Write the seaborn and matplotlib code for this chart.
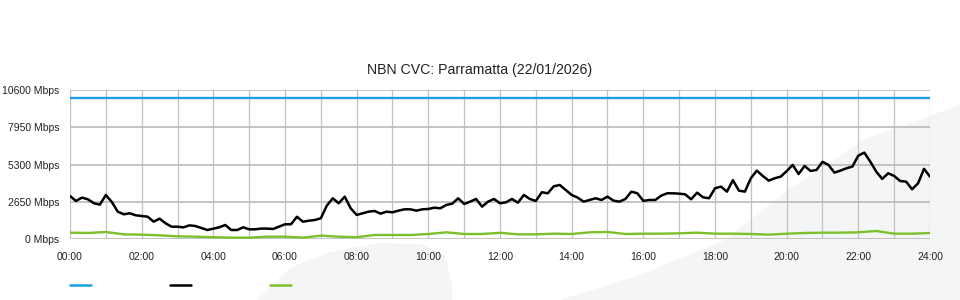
import numpy as np
import pandas as pd
import matplotlib
matplotlib.use("Agg")
import matplotlib.pyplot as plt
from matplotlib.lines import Line2D
from matplotlib.patches import Polygon
import seaborn as sns

# ---------------- data ----------------
TITLE = "NBN CVC: Parramatta (22/01/2026)"
Y_TICKS = [0, 2650, 5300, 7950, 10600]
Y_TICK_LABELS = ["0 Mbps", "2650 Mbps", "5300 Mbps", "7950 Mbps", "10600 Mbps"]
X_TICKS_H = [0, 2, 4, 6, 8, 10, 12, 14, 16, 18, 20, 22, 24]
X_TICK_LABELS = ["00:00", "02:00", "04:00", "06:00", "08:00", "10:00", "12:00",
                 "14:00", "16:00", "18:00", "20:00", "22:00", "24:00"]

# capacity (blue), constant across the day
capacity_hours = [0, 24]
capacity_mbps = [10000, 10000]

# traffic (black), sampled every 10 minutes from 00:00 to 24:00
traffic_step_min = 10
traffic_mbps = [
    3077, 2721, 2960, 2840, 2558, 2460, 3147, 2650, 1961, 1776,
    1847, 1705, 1655, 1606, 1250, 1464, 1137, 895, 895, 848,
    990, 943, 800, 661, 760, 852, 1016, 661, 661, 852,
    710, 710, 760, 760, 732, 895, 1066, 1066, 1600, 1250,
    1321, 1370, 1492, 2390, 2913, 2558, 3027, 2200, 1730, 1847,
    1963, 2011, 1820, 1963, 1916, 2035, 2129, 2129, 2035, 2129,
    2153, 2247, 2200, 2437, 2530, 2911, 2507, 2674, 2863, 2318,
    2674, 2863, 2556, 2627, 2863, 2600, 3148, 2863, 2720, 3340,
    3267, 3763, 3857, 3502, 3148, 2958, 2674, 2792, 2911, 2792,
    3029, 2745, 2674, 2863, 3385, 3267, 2730, 2792, 2792, 3100,
    3266, 3266, 3240, 3195, 2840, 3313, 2982, 2911, 3621, 3740,
    3384, 4200, 3455, 3384, 4332, 4876, 4497, 4166, 4332, 4450,
    4840, 5279, 4640, 5208, 4850, 4924, 5500, 5279, 4734, 4876,
    5042, 5161, 5940, 6155, 5516, 4805, 4285, 4687, 4497, 4140,
    4095, 3550, 3976, 5000, 4450,
]

# secondary series (green), sampled every 30 minutes
green_step_min = 30
green_mbps = [
    471, 450, 520, 353, 330, 280, 210, 187, 150, 116,
    116, 187, 187, 116, 258, 187, 150, 306, 306, 306,
    377, 495, 377, 377, 460, 353, 353, 400, 377, 495,
    520, 377, 400, 400, 424, 471, 400, 400, 377, 329,
    400, 447, 471, 471, 495, 590, 400, 400, 447,
]

COLORS = {"capacity": "#1ba1e2", "traffic": "#000000", "green": "#7cc02c"}

traffic_df = pd.DataFrame({
    "hour": np.arange(len(traffic_mbps)) * traffic_step_min / 60.0,
    "mbps": traffic_mbps,
})
green_df = pd.DataFrame({
    "hour": np.arange(len(green_mbps)) * green_step_min / 60.0,
    "mbps": green_mbps,
})
cap_df = pd.DataFrame({"hour": capacity_hours, "mbps": capacity_mbps})

# ---------------- style ----------------
sns.set_style("white")
plt.rcParams["font.family"] = ["Liberation Sans", "DejaVu Sans"]

W, H = 960, 300
fig = plt.figure(figsize=(W / 100, H / 100), dpi=100)

# watermark swooshes (figure background)
def px(pts):
    return [(x / W, 1 - y / H) for x, y in pts]

wm = "#f4f5f7"
fig.patches.append(Polygon(px([(257, 300), (290, 268), (330, 252), (380, 243),
                                (420, 244), (445, 255), (452, 285), (452, 300)]),
                           closed=True, transform=fig.transFigure,
                           facecolor=wm, edgecolor="none", zorder=-10))
fig.patches.append(Polygon(px([(560, 300), (640, 275), (725, 240), (788, 190),
                                (863, 140), (960, 105), (960, 300)]),
                           closed=True, transform=fig.transFigure,
                           facecolor=wm, edgecolor="none", zorder=-10))

left, right = 70 / W, 930 / W
bottom, top = 1 - 239.3 / H, 1 - 90 / H
ax = fig.add_axes([left, bottom, right - left, top - bottom])
ax.patch.set_alpha(0)
ax.set_zorder(5)

# grid
for h in range(0, 25):
    ax.axvline(h, color="#c2c2c2", lw=0.9, zorder=1)
for yv in Y_TICKS:
    ax.axhline(yv, color="#bababa", lw=1.2, zorder=1)

sns.lineplot(data=cap_df, x="hour", y="mbps", ax=ax, color=COLORS["capacity"],
             linewidth=1.7, zorder=3)
sns.lineplot(data=green_df, x="hour", y="mbps", ax=ax, color=COLORS["green"],
             linewidth=1.7, zorder=3)
sns.lineplot(data=traffic_df, x="hour", y="mbps", ax=ax, color=COLORS["traffic"],
             linewidth=1.8, zorder=4)

ax.set_xlim(0, 24)
ax.set_ylim(0, 10600)
ax.set_xticks(X_TICKS_H)
ax.set_xticklabels(X_TICK_LABELS)
ax.set_yticks(Y_TICKS)
ax.set_yticklabels(Y_TICK_LABELS)
ax.set_xlabel("")
ax.set_ylabel("")
ax.tick_params(axis="both", length=0, labelsize=7.5, colors="#222222")
ax.tick_params(axis="y", pad=7.5)
ax.tick_params(axis="x", pad=9.5)
for s in ax.spines.values():
    s.set_visible(False)

fig.text(0.5, 1 - 70 / H, TITLE, ha="center", va="center", fontsize=10.2,
         color="#222222")

# legend swatches (no labels)
for x0, key in [(70, "capacity"), (170, "traffic"), (270, "green")]:
    fig.lines.append(Line2D([x0 / W, (x0 + 21) / W], [1 - 285 / H, 1 - 285 / H],
                            transform=fig.transFigure, color=COLORS[key],
                            linewidth=1.8))

fig.savefig("out.png", dpi=100)
